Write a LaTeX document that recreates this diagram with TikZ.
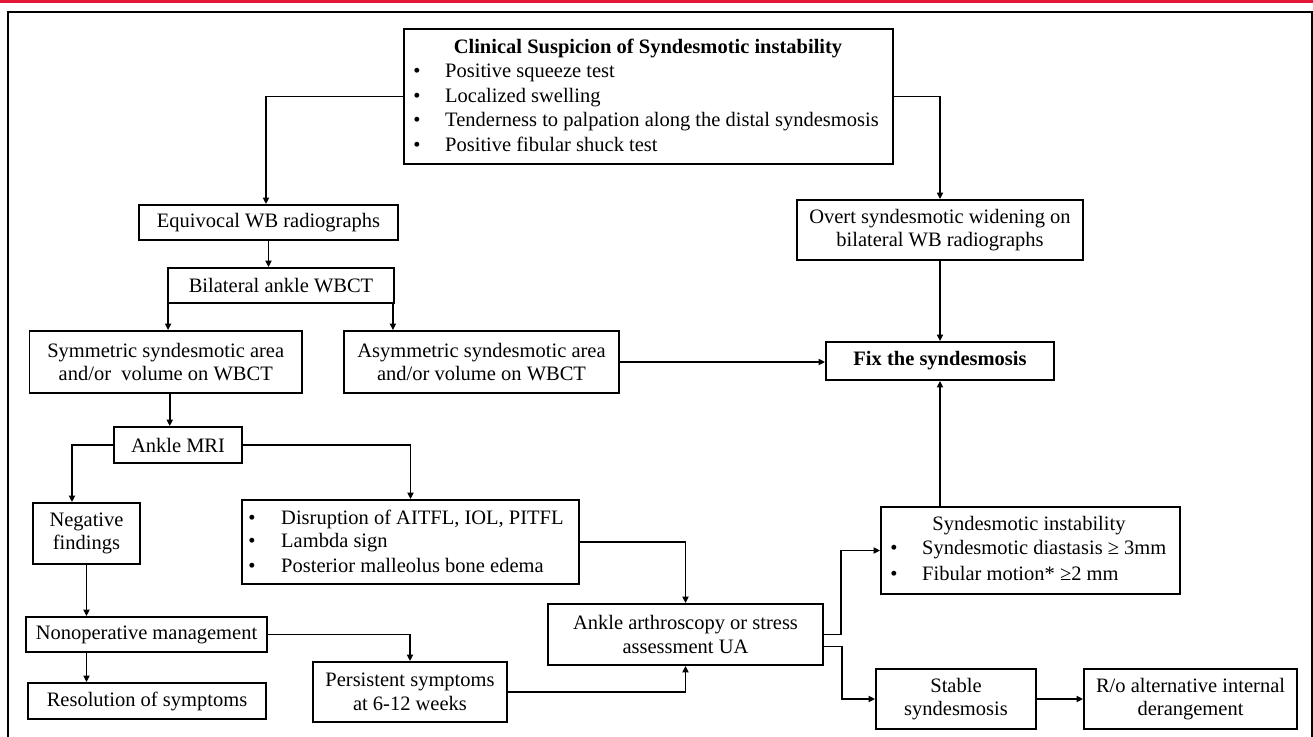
\documentclass[tikz,border=0pt]{standalone}
\usepackage{fontspec}
\setmainfont{Liberation Serif}
\usetikzlibrary{arrows.meta}
\definecolor{band}{RGB}{226,24,54}
\tikzset{
  box/.style={draw, line width=1.8pt, inner sep=0pt, align=center, font=\fontsize{20.5}{23.5}\selectfont},
  txt/.style={inner sep=0pt, font=\fontsize{20.5}{23.5}\selectfont},
  conn/.style={line width=1.7pt, -{Triangle[length=6.5pt,width=6pt]}}
}
\begin{document}
\begin{tikzpicture}[x=1pt,y=-1pt]
\useasboundingbox (0,0) rectangle (1313,736);
\fill[band] (0,0) rectangle (1313,2.5);
\draw[line width=1.6pt] (8,745) -- (8,12) -- (1312,12) -- (1312,745);

% boxes
\node[box, minimum width=489pt, minimum height=135pt] (clin) at (648.5,96.5) {};
\node[box, minimum width=259pt, minimum height=35pt] (equiv) at (268.5,222.5) {Equivocal WB radiographs};
\node[box, minimum width=226pt, minimum height=35pt] (bilat) at (281,285.5) {Bilateral ankle WBCT};
\node[box, minimum width=286pt, minimum height=60pt] (overt) at (940,230) {Overt syndesmotic widening on\\bilateral WB radiographs};
\node[box, minimum width=272.5pt, minimum height=62pt] (sym) at (165.75,362) {Symmetric syndesmotic area\\and/or\ \ volume on WBCT};
\node[box, minimum width=275pt, minimum height=62pt] (asym) at (481.5,362) {Asymmetric syndesmotic area\\and/or volume on WBCT};
\node[box, minimum width=228pt, minimum height=38pt] (fix) at (940,361) {\bfseries Fix the syndesmosis};
\node[box, minimum width=128pt, minimum height=36pt] (mri) at (178,445) {Ankle MRI};
\node[box, minimum width=107pt, minimum height=61pt] (neg) at (86.5,533.5) {Negative\\findings};
\node[box, minimum width=337pt, minimum height=84pt] (disr) at (410.5,542) {};
\node[box, minimum width=299pt, minimum height=87pt] (si) at (1030.5,550.5) {};
\node[box, minimum width=275pt, minimum height=61pt] (arth) at (685.5,634.5) {Ankle arthroscopy or stress\\assessment UA};
\node[box, minimum width=241pt, minimum height=35pt] (nonop) at (146.5,634.5) {Nonoperative management};
\node[box, minimum width=238pt, minimum height=36pt] (res) at (147,701) {Resolution of symptoms};
\node[box, minimum width=194pt, minimum height=60pt] (pers) at (410,692) {Persistent symptoms\\at 6-12 weeks};
\node[box, minimum width=160pt, minimum height=60pt] (stable) at (956,699) {Stable\\syndesmosis};
\node[box, minimum width=213pt, minimum height=60pt] (ro) at (1190.5,699) {R/o alternative internal\\derangement};

% texts in bullet boxes
\node[txt, anchor=mid] (clint) at (648,51) {\bfseries Clinical Suspicion of Syndesmotic instability};
\node[txt, anchor=mid] (cb1) at (417,75) {•};
\node[txt, anchor=mid] (cb2) at (417,100) {•};
\node[txt, anchor=mid] (cb3) at (417,124) {•};
\node[txt, anchor=mid] (cb4) at (417,149) {•};
\node[txt, anchor=mid west] (ct1) at (445,75) {Positive squeeze test};
\node[txt, anchor=mid west] (ct2) at (445,100) {Localized swelling};
\node[txt, anchor=mid west] (ct3) at (445,124) {Tenderness to palpation along the distal syndesmosis};
\node[txt, anchor=mid west] (ct4) at (445,149) {Positive fibular shuck test};

\node[txt, anchor=mid] (db1) at (252,522) {•};
\node[txt, anchor=mid] (db2) at (252,545) {•};
\node[txt, anchor=mid] (db3) at (252,570) {•};
\node[txt, anchor=mid west] (dt1) at (281,522) {Disruption of AITFL, IOL, PITFL};
\node[txt, anchor=mid west] (dt2) at (281,545) {Lambda sign};
\node[txt, anchor=mid west] (dt3) at (281,570) {Posterior malleolus bone edema};

\node[txt, anchor=mid] (sit) at (1029,528) {Syndesmotic instability};
\node[txt, anchor=mid] (sb1) at (894,552) {•};
\node[txt, anchor=mid] (sb2) at (894,578) {•};
\node[txt, anchor=mid west] (st1) at (922,552) {Syndesmotic diastasis ≥ 3mm};
\node[txt, anchor=mid west] (st2) at (922,578) {Fibular motion* ≥2 mm};

% connectors
\draw[conn] (clin.west) -| ([xshift=-2.5pt]equiv.north);
\draw[conn] (clin.east) -| (overt.north);
\draw[conn] (equiv.south) -- (equiv.south |- bilat.north);
\draw[conn] ([xshift=1pt]bilat.south west) -- ([xshift=1pt]bilat.south west |- sym.north);
\draw[conn] ([xshift=-2pt]bilat.south east) -- ([xshift=-2pt]bilat.south east |- asym.north);
\draw[conn] (asym.east) -- (asym.east -| fix.west);
\draw[conn] (overt.south) -- (fix.north);
\draw[conn] ([xshift=4pt]sym.south) -- ([xshift=4pt]sym.south |- mri.north);
\draw[conn] (mri.west) -| ([xshift=-14.5pt]neg.north);
\draw[conn] (mri.east) -| (disr.north);
\draw[conn] (disr.east) -| (arth.north);
\draw[conn] (neg.south) -- (neg.south |- nonop.north);
\draw[conn] (neg.south |- nonop.south) -- (neg.south |- res.north);
\draw[conn] (nonop.east) -| (pers.north);
\draw[conn] (pers.east) -| (arth.south);
\draw[conn] (arth.east) -- ++(17,0) |- (si.west);
\draw[conn] ([yshift=-12pt]arth.east) -- ++(18,0) |- (stable.west);
\draw[conn] (fix.south |- si.north) -- (fix.south);
\draw[conn] (stable.east) -- (ro.west);
\end{tikzpicture}
\end{document}
